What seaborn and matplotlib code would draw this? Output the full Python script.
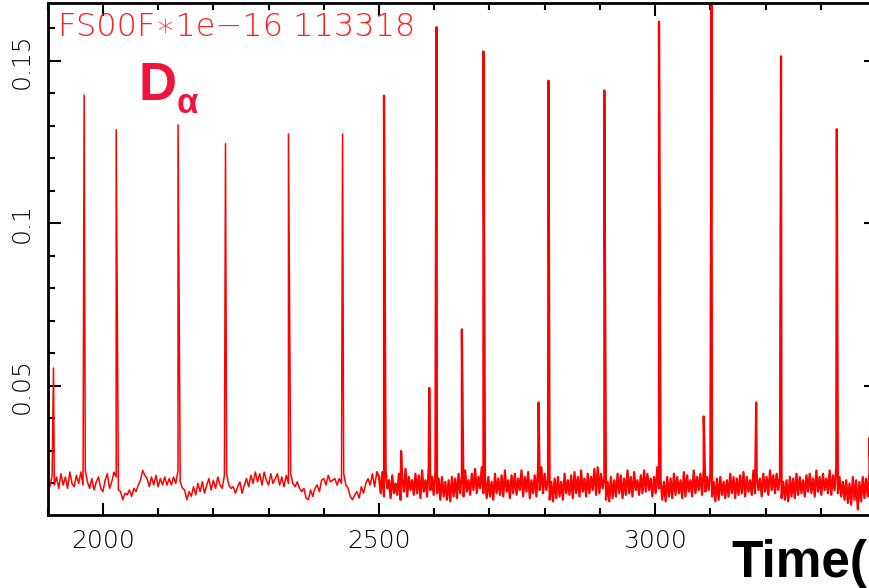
"""D-alpha trace for shot 113318 (ELM spikes over a noisy baseline).
"""
import numpy as np
import pandas as pd
import matplotlib
matplotlib.use("Agg")
import matplotlib.pyplot as plt
from matplotlib.ticker import MultipleLocator, FixedLocator, FuncFormatter
import seaborn as sns

# baseline before 2500 ms, sampled every 4 ms (values x1e-3)
slow_start, slow_step = 1900, 4
slow_vals = [21.5, 19, 22.5,
             19.5,
             22, 18.5, 23, 19.5, 22, 18.5, 23.5, 20, 19, 22.5, 20, 23.5, 19.5,
             24, 20.5, 18.5, 21.5, 18, 20.5, 22, 18.5, 17.5, 21, 23, 18.5, 20.5, 23.5,
             22, 18, 17.5, 15, 17, 16.5, 18, 16, 18.5, 17.5,
             19.5, 21, 24, 22.5, 21.5, 19, 22, 19.5, 22.5, 19,
             21.5, 19.5, 22, 19.5, 21.5, 19.5, 22, 20,
             24, 20.5, 18.5, 18, 15, 17.5, 16, 19, 16.5, 20, 17.5, 20.5, 17, 19.5,
             21.5, 18, 21, 18.5, 22, 19.5, 18.5, 22.5,
             23, 19.5, 18.5, 19, 17, 19, 20.5, 17, 19.5, 21.5, 19, 22.5, 20, 23.5, 20.5,
             23, 19.5, 23.5, 21, 19.5, 23, 20, 21.5, 23, 19.5, 22, 19, 22.5, 20,
             23, 20, 19, 20.5, 18.5, 17.5, 18.5, 15.5, 15, 18, 16, 18.5, 19.5, 17.5,
             21, 21.5, 19.5, 22.5, 20.5, 21, 21.5, 19.5, 21.5, 20,
             23, 19.5, 18.5, 16, 15, 16.5, 17.5, 15.5, 19, 17, 20, 21.5, 19.5, 23,
             19, 23.5]

# baseline after 2500 ms, sampled every 3 ms (values x1e-3)
fast_start, fast_step = 2500, 3
fast_vals = [
    22, 17, 23.5, 16, 24, 18.5, 21, 15.5, 22.5, 17, 20, 16.5, 23, 15, 21.5, 17.5, 24.5, 16, 22, 18,
    21, 16.5, 23, 17, 22.5, 15.5, 24, 17.5, 21, 16, 25, 18, 22, 16.5, 23.5, 17, 21.5, 15, 22, 16,
    20.5, 15, 21, 14.5, 22, 16, 21.5, 15.5, 23, 17, 22.5, 16, 24, 17.5, 21, 16.5, 23, 18, 24.5, 17,
    22, 18.5, 25, 17, 21.5, 15.5, 22, 16, 20.5, 15, 23, 17, 21.5, 16.5, 22.5, 16, 24, 17.5, 21, 15.5,
    22.5, 17, 23, 16.5, 21.5, 18, 24, 16, 22, 17.5, 23.5, 15.5, 21, 17, 22.5, 16, 24.5, 18, 25, 17,
    23, 18, 21, 15, 20.5, 14.5, 21.5, 15.5, 22, 16, 20.5, 15, 23, 17, 21, 16.5, 22.5, 15.5, 23.5, 17,
    22, 16, 24, 17.5, 21.5, 16, 23, 17, 22, 18, 24.5, 16.5, 25, 17, 23, 18.5, 21.5, 15, 20.5, 14.5,
    22, 15.5, 21, 16, 23, 17, 22.5, 15.5, 21.5, 16.5, 24, 17, 22, 16, 23.5, 18, 21, 16.5, 22.5, 17,
    24, 17.5, 23, 18, 21.5, 16, 22, 17, 25, 18.5, 21, 15, 20.5, 14.5, 22, 16, 21.5, 15.5, 23, 16.5,
    22, 17, 21, 15.5, 23.5, 16, 22.5, 17.5, 21, 16, 24, 17, 22, 18, 23, 16.5, 24.5, 17.5, 22, 18,
    23, 16, 20.5, 14.5, 21.5, 15, 22, 16.5, 20.5, 15.5, 21, 16, 23, 17, 22, 15.5, 21.5, 16.5, 22.5, 17,
    23.5, 16, 22, 17.5, 21, 16.5, 24, 17, 22.5, 18, 21.5, 16, 23, 17.5, 22, 16.5, 24, 18, 22.5, 17,
    23, 18, 22, 15.5, 20.5, 15, 21, 14.5, 22, 16, 21.5, 15.5, 23, 16.5, 22, 17, 21, 16, 22.5, 17.5,
    23, 17, 21.5, 16, 24, 17.5, 22, 16.5, 23, 18, 21.5, 17, 24, 16.5, 22.5, 18, 25, 17, 22, 16,
    20.5, 15, 21, 14, 20, 13.5, 22, 15, 21, 12, 20.5, 14.5, 22, 15.5, 21.5, 16, 23, 16.5, 22, 17]

# ELM spikes: time (ms) and peak (x1e-3)
elm_time = [1910.5, 1966, 2024, 2136, 2222, 2336, 2434, 2509, 2540, 2591, 2604,
            2650, 2689, 2789, 2807, 2908, 3007, 3088, 3102, 3183, 3228, 3329, 3388]
elm_peak = [55.5, 139.5, 128.8, 130.3, 124.5, 127.5, 127.5, 139.3, 30, 49.4, 160.4,
            67.4, 152.9, 44.9, 143.9, 140.9, 162, 40.6, 172, 44.9, 151.4, 129, 34]

slow_time = slow_start + slow_step * np.arange(len(slow_vals))
fast_time = fast_start + fast_step * np.arange(len(fast_vals))

df = pd.concat([
    pd.DataFrame({"time": slow_time, "da": slow_vals}),
    pd.DataFrame({"time": fast_time, "da": fast_vals}),
    pd.DataFrame({"time": elm_time, "da": elm_peak}),
])
df["da"] = df["da"] * 1e-3
df = df.sort_values("time", kind="stable").reset_index(drop=True)
slow_df = df[df["time"] <= fast_start]
fast_df = df[df["time"] >= fast_start - slow_step]

sns.set_style("ticks")
plt.rcParams["font.family"] = ["DejaVu Sans"]

fig = plt.figure(figsize=(8.7, 5.88), dpi=100)
ax = fig.add_axes([47.7 / 870, 73 / 588, 828.3 / 870, 512 / 588])

sns.lineplot(data=slow_df, x="time", y="da", ax=ax, color="#ff0000",
             linewidth=1.1, estimator=None, sort=False)
sns.lineplot(data=fast_df, x="time", y="da", ax=ax, color="#ff0000",
             linewidth=1.6, estimator=None, sort=False)

ax.set_xlim(1900, 3400)
ax.set_ylim(0.0103, 0.1678)
ax.set_xlabel("")
ax.set_ylabel("")

ax.xaxis.set_major_locator(FixedLocator([2000, 2500, 3000]))
ax.xaxis.set_minor_locator(MultipleLocator(100))
ax.yaxis.set_major_locator(FixedLocator([0.05, 0.1, 0.15]))
ax.yaxis.set_minor_locator(MultipleLocator(0.01))
ax.yaxis.set_major_formatter(FuncFormatter(lambda v, p: "%g" % round(v, 3)))

ax.tick_params(which="both", direction="in", top=True, right=True,
               color="black", width=1.5)
ax.tick_params(which="major", length=9, labelsize=18, pad=10)
ax.tick_params(which="minor", length=5)
for lab in ax.get_xticklabels() + ax.get_yticklabels():
    lab.set_fontweight(200)
    lab.set_color("black")
for lab in ax.get_yticklabels():
    lab.set_rotation(90)
    lab.set_va("center")

for s in ax.spines.values():
    s.set_linewidth(2)
    s.set_color("black")

fig.text(58 / 870, 1 - 36 / 588, "FS00F\u22171e\u221216 113318", color="#ff2020",
         fontsize=23, fontweight=200, va="baseline", ha="left")
fig.text(139 / 870, 1 - 100 / 588, "D", color="#f0143c", fontsize=38,
         fontweight="bold", family="Liberation Sans", va="baseline", ha="left")
fig.text(177 / 870, 1 - 113 / 588, "\u03b1", color="#f0143c", fontsize=25,
         fontweight="bold", family="Liberation Sans", va="baseline", ha="left")
fig.text(731 / 870, 1 - 577 / 588, "Time(ms)", color="black", fontsize=37,
         fontweight="bold", family="Liberation Sans", va="baseline", ha="left")

fig.savefig("out.png", dpi=100)
